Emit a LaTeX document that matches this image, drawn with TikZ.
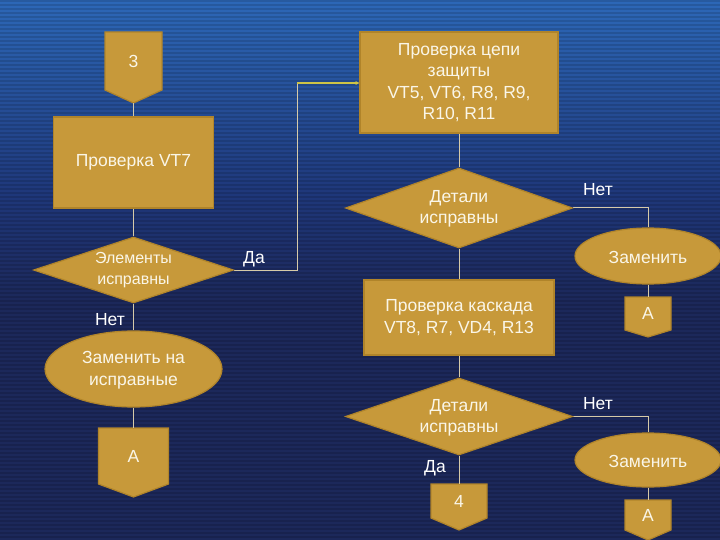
\documentclass[tikz,border=0pt]{standalone}
\usepackage{fontspec}
\setmainfont{Liberation Sans}
\usetikzlibrary{shapes.geometric,arrows.meta,calc}
\pgfdeclarelayer{bgzero}
\pgfdeclarelayer{background}
\pgfsetlayers{bgzero,background,main}
\definecolor{goldc}{RGB}{199,153,58}
\definecolor{goldd}{RGB}{176,132,42}
\definecolor{txtc}{RGB}{250,246,232}
\definecolor{linec}{RGB}{214,202,168}
\definecolor{liney}{RGB}{205,196,70}
\definecolor{bgtop}{RGB}{45,105,185}
\definecolor{bgmid}{RGB}{30,54,120}
\definecolor{bgbot}{RGB}{28,40,90}
\tikzset{
  shapefill/.style={fill=goldc,draw=goldd,line width=1.2pt},
  boxnode/.style={shapefill,rectangle,inner sep=0pt,text=txtc,align=center,font=\fontsize{17.5}{21.5}\selectfont},
  holder/.style={inner sep=0pt,outer sep=0pt,text=txtc,font=\fontsize{17.5}{20}\selectfont},
  dianode/.style={shapefill,diamond,inner sep=0pt},
  ellnode/.style={shapefill,ellipse,inner sep=0pt},
  txtnode/.style={text=txtc,align=center,font=\fontsize{17.5}{21.5}\selectfont,inner sep=0pt},
  lbl/.style={text=white,font=\fontsize{17.5}{20}\selectfont,inner sep=0pt},
  conn/.style={draw=linec,line width=1pt},
}
\newcommand{\offpage}[2]{% name, depth
  \begin{pgfonlayer}{background}
  \fill[goldc,draw=goldd,line width=1.2pt] (#1.north west) -- (#1.north east) -- (#1.south east) -- ($(#1.south)+(0,#2)$) -- (#1.south west) -- cycle;
  \end{pgfonlayer}
  \coordinate (#1tip) at ($(#1.south)+(0,#2)$);
}
\begin{document}
\begin{tikzpicture}[x=1pt,y=-1pt]
\useasboundingbox (0,0) rectangle (720,540);
\begin{pgfonlayer}{bgzero}
\shade[top color=bgtop,bottom color=bgmid] (-5,-5) rectangle (725,200);
\shade[top color=bgmid,bottom color=bgbot] (-5,200) rectangle (725,300);
\fill[bgbot] (-5,300) rectangle (725,545);
\foreach \yy in {0,4,...,540} \fill[black,opacity=0.13] (-5,\yy) rectangle (725,\yy+2);
\end{pgfonlayer}

% left column
\node[holder,minimum width=57pt,minimum height=58pt] (c3) at (133.5,61) {3};
\offpage{c3}{13}
\node[boxnode,minimum width=160pt,minimum height=91pt] (b1) at (133.5,162.5) {Проверка VT7};
\node[dianode,minimum width=200pt,minimum height=66pt] (d1) at (133.5,270) {};
\node[txtnode,font=\fontsize{16}{21}\selectfont] (t1) at (133.5,270) {Элементы\\исправны};
\node[ellnode,minimum width=177pt,minimum height=76pt] (e1) at (133.5,369) {};
\node[txtnode] (t2) at (133.5,370) {Заменить на\\исправные};
\node[holder,minimum width=70pt,minimum height=56pt] (cA1) at (133.5,456) {A};
\offpage{cA1}{13}

% right column
\node[boxnode,minimum width=198pt,minimum height=101pt] (b2) at (459,82.5) {Проверка цепи\\защиты\\VT5, VT6, R8, R9,\\R10, R11};
\node[dianode,minimum width=227pt,minimum height=80pt] (d2) at (459,208) {};
\node[txtnode] (t3) at (459,209) {Детали\\исправны};
\node[ellnode,minimum width=146pt,minimum height=56pt] (e2) at (648,256) {};
\node[txtnode] (t4) at (648,257) {Заменить};
\node[holder,minimum width=46pt,minimum height=33pt] (cA2) at (648,313.5) {A};
\offpage{cA2}{7}
\node[boxnode,minimum width=190pt,minimum height=75pt] (b3) at (459,317.5) {Проверка каскада\\VT8, R7, VD4, R13};
\node[dianode,minimum width=227pt,minimum height=77pt] (d3) at (459,416.5) {};
\node[txtnode] (t5) at (459,418) {Детали\\исправны};
\node[ellnode,minimum width=146pt,minimum height=54pt] (e3) at (648,460) {};
\node[txtnode] (t6) at (648,461) {Заменить};
\node[holder,minimum width=46pt,minimum height=30pt] (cA3) at (648,515) {A};
\offpage{cA3}{10}
\node[holder,minimum width=56pt,minimum height=34pt] (c4) at (459,501) {4};
\offpage{c4}{12}

% connectors
\begin{pgfonlayer}{background}
\draw[conn] (c3tip) -- (b1.north);
\draw[conn] (b1.south) -- (d1.north);
\coordinate (k1) at (297,83);
\draw[conn] (d1.east) -| (k1);
\draw[draw=liney,line width=1.2pt,-{Stealth[length=4pt,width=4pt]}] (k1) -- (b2.west |- k1);
\draw[conn] (d1.south) -- (e1.north);
\draw[conn] (e1.south) -- (cA1.north);
\draw[conn] (b2.south) -- (d2.north);
\draw[conn] (d2.east) -| (e2.north);
\draw[conn] (e2.south) -- (cA2.north);
\draw[conn] (d2.south) -- (b3.north);
\draw[conn] (b3.south) -- (d3.north);
\draw[conn] (d3.east) -| (e3.north);
\draw[conn] (e3.south) -- (cA3.north);
\draw[conn] (d3.south) -- (c4.north);
\end{pgfonlayer}

% labels
\node[lbl] (l1) at (254,259) {Да};
\node[lbl] (l2) at (110,320) {Нет};
\node[lbl] (l3) at (598,190) {Нет};
\node[lbl] (l4) at (598,404) {Нет};
\node[lbl] (l5) at (435,468) {Да};
\end{tikzpicture}
\end{document}
